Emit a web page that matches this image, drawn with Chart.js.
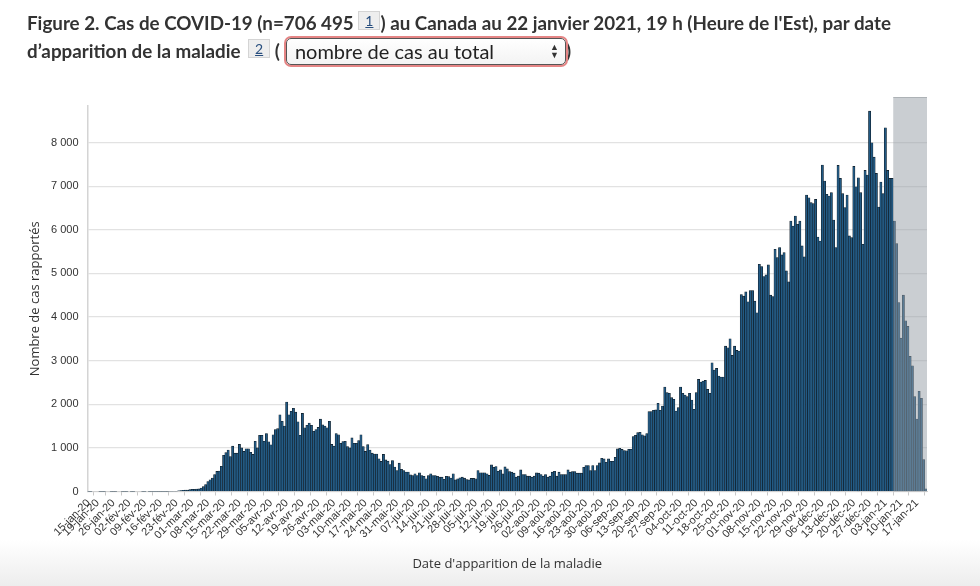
<!DOCTYPE html>
<html lang="fr">
<head>
<meta charset="utf-8">
<script src="https://cdn.jsdelivr.net/npm/chart.js@4.4.1/dist/chart.umd.min.js"></script>
<style>
    html, body { margin: 0; padding: 0; }
    body {
        width: 980px;
        height: 586px;
        position: relative;
        overflow: hidden;
        background: #fff;
        font-family: Lato, "Open Sans", sans-serif;
    }
    .fade {
        position: absolute;
        left: 0; right: 0; top: 540px; bottom: 0;
        background: linear-gradient(to bottom, #ffffff, #ededed);
    }
    #chart { position: absolute; left: 0; top: 0; }
    .title {
        position: absolute;
        left: 27px;
        top: 9px;
        width: 950px;
        font-weight: bold;
        font-size: 18.8px;
        line-height: 28px;
        color: #333;
        z-index: 2;
        white-space: nowrap;
    }
    .fn {
        display: inline-block;
        font-weight: normal;
        font-size: 14px;
        line-height: 17px;
        padding: 0 6px;
        background: #eee;
        border: 1px solid #d4d4d4;
        color: #284e7e;
        text-decoration: underline;
        vertical-align: 4px;
    }
    .fn.second { margin-left: 3px; }
    .sel {
        display: inline-block;
        position: relative;
        width: 270px;
        height: 25px;
        line-height: 25px;
        padding-left: 8px;
        margin-left: 6px;
        border: 1px solid #555;
        border-radius: 5px;
        box-shadow: 0 0 0 2px #e58585;
        background: linear-gradient(#fff, #f3f3f3);
        font-weight: normal;
        font-size: 20px;
        color: #222;
        vertical-align: -1px;
    }
    .sel .arr {
        position: absolute;
        right: 6px;
        top: 4px;
        font-size: 9px;
        line-height: 8px;
        color: #333;
    }
</style>
</head>
<body>
<div class="fade"></div>
<canvas id="chart" width="980" height="586"></canvas>
<div class="title">
    Figure 2. Cas de COVID-19 (n=706 495 <span class="fn">1</span>) au Canada au 22 janvier 2021, 19 h (Heure de l'Est), par date<br>
    d’apparition de la maladie <span class="fn second">2</span> (<span class="sel">nombre de cas au total<span class="arr">▲<br>▼</span></span>)
</div>
<script>
// daily cases by onset date, starting 15-jan-20 (one value per day)
const cases = [
    // jan 15-31
    2, 1, 0, 0, 0, 1, 2, 1, 0, 0, 1, 2, 1, 0, 0, 1, 1,
    // feb
    1, 0, 1, 1, 0, 0, 0, 1, 1, 0, 1, 2, 1, 2, 2, 3, 2, 3, 4, 5, 6, 8, 10, 15, 20, 25, 30, 30, 45,
    // mar
    50, 50, 55, 60, 80, 110, 160, 230, 270, 310, 390, 460, 470, 580, 830, 890, 950, 800, 1040, 880,
    880, 1080, 1000, 920, 980, 980, 900, 850, 1150, 1000, 1290,
    // apr
    1290, 1150, 1330, 1140, 1070, 1300, 1420, 1440, 1760, 1610, 1500, 2050, 1760, 1840, 1910, 1820,
    1600, 1290, 1790, 1460, 1520, 1570, 1520, 1380, 1420, 1470, 1660, 1530, 1500, 1460,
    // may
    1610, 1080, 1040, 1330, 1300, 1105, 1145, 1150, 1030, 1000, 1230, 1105, 1105, 1170, 1300, 1030,
    920, 1075, 950, 880, 860, 860, 750, 690, 850, 725, 695, 620, 710, 560, 480,
    // jun
    650, 510, 480, 445, 445, 380, 365, 405, 365, 430, 365, 350, 290, 365, 405, 365, 365, 350, 330,
    330, 280, 350, 340, 310, 405, 265, 290, 315, 330, 305,
    // jul
    275, 265, 300, 300, 290, 480, 430, 430, 430, 405, 370, 610, 557, 572, 465, 496, 404, 565, 519,
    458, 443, 420, 328, 351, 496, 389, 389, 351, 351, 328, 351,
    // aug
    427, 420, 389, 351, 389, 328, 351, 443, 465, 351, 443, 389, 389, 389, 496, 443, 458, 458, 420,
    420, 420, 557, 595, 595, 480, 595, 480, 595, 656, 763, 748,
    // sep
    671, 748, 694, 694, 786, 977, 990, 965, 940, 935, 969, 969, 1259, 1290, 1350, 1358, 1300, 1274,
    1328, 1831, 1831, 1862, 1870, 2022, 1862, 1961, 2396, 2266, 2251, 2152,
    // oct
    2114, 1846, 1923, 2396, 2251, 2213, 2175, 2251, 2098, 1885, 2266, 2571, 2510, 2533, 2548, 2342,
    2251, 2953, 2785, 2823, 2648, 2625, 2625, 3334, 3296, 3502, 3121, 3334, 3235, 3220, 4517,
    // nov
    4479, 4578, 4349, 4608, 4608, 4364, 4097, 5211, 5158, 4929, 4967, 5196, 4502, 4471, 5554, 5364,
    5593, 5425, 5478, 5059, 4807, 6203, 6089, 6318, 6127, 6203, 5631, 5379, 6798, 6737,
    // dec
    6623, 6600, 6699, 5837, 5745, 7485, 7119, 6814, 6775, 6852, 6226, 5593, 7477, 7180, 6829, 6508,
    6798, 5860, 5822, 7454, 6989, 7195, 6852, 5669, 7363, 7256, 8721, 7996, 7668, 7294, 6524,
    // jan 2021 (1-21)
    7096, 6829, 8340, 7363, 7180, 7180, 6203, 5684, 4334, 3517, 4502, 3914, 3785, 3098, 2884, 2175,
    1663, 2297, 2136, 732, 61
];

const monthNames = ['jan', 'fév', 'mar', 'avr', 'mai', 'jui', 'jul', 'aoû', 'sep', 'oct', 'nov', 'déc'];

const tickLabels = [
    '15-jan-20', '19-jan-20', '26-jan-20', '02-fév-20', '09-fév-20', '16-fév-20', '23-fév-20',
    '01-mar-20', '08-mar-20', '15-mar-20', '22-mar-20', '29-mar-20', '05-avr-20', '12-avr-20',
    '19-avr-20', '26-avr-20', '03-mai-20', '10-mai-20', '17-mai-20', '24-mai-20', '31-mai-20',
    '07-jui-20', '14-jui-20', '21-jui-20', '28-jui-20', '05-jul-20', '12-jul-20', '19-jul-20',
    '26-jul-20', '02-aoû-20', '09-aoû-20', '16-aoû-20', '23-aoû-20', '30-aoû-20', '06-sep-20',
    '13-sep-20', '20-sep-20', '27-sep-20', '04-oct-20', '11-oct-20', '18-oct-20', '25-oct-20',
    '01-nov-20', '08-nov-20', '15-nov-20', '22-nov-20', '29-nov-20', '06-déc-20', '13-déc-20',
    '20-déc-20', '27-déc-20', '03-jan-21', '10-jan-21', '17-jan-21'
];

const yTicks = [0, 1000, 2000, 3000, 4000, 5000, 6000, 7000, 8000];

// onset dates from here on are shaded (incomplete reporting)
const provisionalFrom = '07-jan-21';

const pad2 = (n) => (n < 10 ? '0' : '') + n;
const dates = cases.map((_, i) => {
    const d = new Date(2020, 0, 15 + i);
    return pad2(d.getDate()) + '-' + monthNames[d.getMonth()] + '-' + String(d.getFullYear()).slice(2);
});
const tickSet = new Set(tickLabels);

const fmt = (v) => String(v).replace(/\B(?=(\d{3})+(?!\d))/g, ' ');

const shadePlugin = {
    id: 'shade',
    afterDatasetsDraw(chart) {
        const { ctx, chartArea, scales } = chart;
        const idx = dates.indexOf(provisionalFrom);
        if (idx < 0) return;
        const half = (scales.x.getPixelForValue(1) - scales.x.getPixelForValue(0)) / 2;
        const x0 = scales.x.getPixelForValue(idx) - half;
        const top = chartArea.top - 9;
        ctx.save();
        ctx.fillStyle = 'rgba(150, 158, 166, 0.5)';
        ctx.fillRect(x0, top, chartArea.right - x0, chartArea.bottom - top);
        ctx.fillStyle = 'rgba(120, 125, 130, 0.35)';
        ctx.fillRect(x0, top, chartArea.right - x0, 1);
        ctx.restore();
    }
};

const axisFont = { family: '"Liberation Sans", Arial, sans-serif', size: 11 };
const titleFont = { family: '"Open Sans", sans-serif', size: 13 };

new Chart(document.getElementById('chart'), {
    type: 'bar',
    data: {
        labels: dates,
        datasets: [{
            data: cases,
            backgroundColor: '#225a84',
            borderColor: '#0e1922',
            borderWidth: 0.6,
            barPercentage: 1,
            categoryPercentage: 1
        }]
    },
    options: {
        responsive: false,
        animation: false,
        layout: {
            padding: { left: 23, right: 53, top: 106, bottom: 10 }
        },
        plugins: {
            legend: { display: false },
            tooltip: { enabled: false }
        },
        scales: {
            x: {
                afterFit: (s) => { s.height = 84.5; },
                grid: {
                    drawOnChartArea: false,
                    tickLength: 4,
                    color: '#c8c8c8'
                },
                border: { color: '#d0d0d0', width: 1 },
                ticks: {
                    autoSkip: false,
                    minRotation: 45,
                    maxRotation: 45,
                    padding: 1,
                    color: '#333',
                    font: axisFont,
                    callback: (value, i) => (tickSet.has(dates[i]) ? dates[i] : null)
                },
                title: {
                    display: true,
                    text: "Date d'apparition de la maladie",
                    color: '#333',
                    font: titleFont
                }
            },
            y: {
                min: 0,
                max: 8840,
                afterFit: (s) => { s.width = 64.5; },
                afterBuildTicks: (s) => { s.ticks = yTicks.map((v) => ({ value: v })); },
                grid: {
                    color: '#e2e2e2',
                    lineWidth: 1.2,
                    drawTicks: false
                },
                border: { color: '#d4d4d4', width: 1.5 },
                ticks: {
                    padding: 9,
                    color: '#333',
                    font: axisFont,
                    callback: (v) => fmt(v)
                },
                title: {
                    display: true,
                    text: 'Nombre de cas rapportés',
                    color: '#333',
                    font: titleFont
                }
            }
        }
    },
    plugins: [shadePlugin]
});
</script>
</body>
</html>
